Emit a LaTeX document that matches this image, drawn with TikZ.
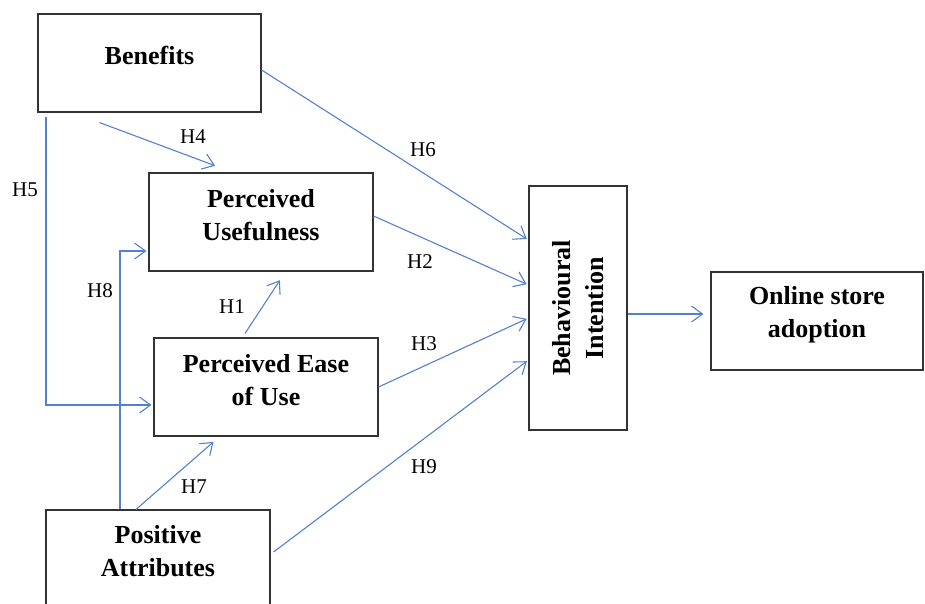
\documentclass[tikz,border=0pt]{standalone}
\usepackage{fontspec}
\setmainfont{Liberation Serif}
\usetikzlibrary{arrows.meta}
\definecolor{linkblue}{RGB}{84,128,208}

\begin{document}
\begin{tikzpicture}[%
 x=1pt, y=-1pt,
 block/.style={
 	rectangle,
 	draw=black!80,
 	line width=1.1pt,
 	fill=white,
 	align=center,
 	inner sep=0pt,
 	minimum width=224pt,
 	minimum height=98pt,
 	font=\fontsize{26}{33}\selectfont\bfseries
 },
 link/.style={
 	draw=linkblue,
 	line width=1.1pt,
 	shorten >=2pt,
 	-{Straight Barb[length=11pt,width=16pt]}
 },
 hyp/.style={
 	font=\fontsize{21}{24}\selectfont,
 	inner sep=0pt
 }
 ]
\useasboundingbox (0,0) rectangle (925,604);
 \node[block, minimum width=223pt, text depth=16pt] (ben) at (149.5,63) {Benefits};
 \node[block, text depth=14pt] (pu) at (261,222) {Perceived\\Usefulness};
 \node[block, text depth=14pt] (peou) at (266,387) {Perceived Ease\\of Use};
 \node[block, text depth=16pt] (pa) at (158,559) {Positive\\Attributes};
 % rotated: north is the left side, south the right side
 \node[block, rotate=90, minimum width=244pt, minimum height=98pt] (bi) at (578,308) {Behavioural\\Intention};
 \node[block, minimum width=212pt, text depth=19pt] (osa) at (817,321) {Online store\\adoption};

\draw[link] ([yshift=-7pt]ben.east) -- ([yshift=68pt]bi.north);
\draw[link] ([xshift=-50pt,yshift=-10pt]ben.south) -- ([xshift=-44pt,yshift=6pt]pu.north);
\draw[link] ([xshift=8.5pt,yshift=-4pt]ben.south west) |- ([yshift=-18pt]peou.west);
\draw[link] ([yshift=6pt]pu.east) -- ([yshift=23pt]bi.north);
\draw[link] ([xshift=-21pt,yshift=4pt]peou.north) -- ([xshift=20pt,yshift=-7pt]pu.south);
\draw[link] (peou.east) -- ([yshift=-10pt]bi.north);
\draw[link] ([xshift=-38pt]pa.north) |- ([yshift=-29pt]pu.west);
\draw[link] ([xshift=-22pt]pa.north) -- ([xshift=-51pt,yshift=-4pt]peou.south);
\draw[link] ([xshift=3pt,yshift=7pt]pa.east) -- ([yshift=-52pt]bi.north);
\draw[link, shorten >=7pt] ([yshift=-6pt]bi.south) -- ([yshift=7pt]osa.west);

\node[hyp] (h1) at (232,307) {H1};
\node[hyp] (h2) at (420,262) {H2};
\node[hyp] (h3) at (424,344) {H3};
\node[hyp] (h4) at (193,137) {H4};
\node[hyp] (h5) at (25,190) {H5};
\node[hyp] (h6) at (423,150) {H6};
\node[hyp] (h7) at (194,487) {H7};
\node[hyp] (h8) at (100,291) {H8};
\node[hyp] (h9) at (424,467) {H9};
 \end{tikzpicture}
\end{document}
